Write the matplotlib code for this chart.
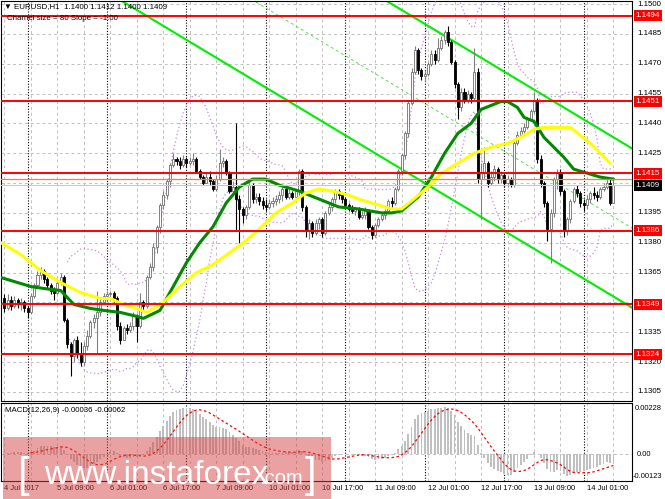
import numpy as np
import pandas as pd
import matplotlib
matplotlib.use("Agg")
import matplotlib.pyplot as plt
from matplotlib.patches import Rectangle
from matplotlib.transforms import blended_transform_factory

plt.rcParams['font.family'] = ['Liberation Sans', 'DejaVu Sans']

# ---------------- data (prices in pips above 1.1300) ----------------
BASE = 1.1300
PIP = 0.0001

first_open_pips = 52
close_pips = [
    47, 51, 48, 51, 49, 50, 47, 45, 53, 59,
    64, 66, 62, 59, 56, 55, 60, 63, 41, 29,
    23, 31, 24, 20, 28, 33, 40, 42, 45, 50,
    53, 54, 55, 52, 38, 31, 37, 36, 38, 43,
    38, 50, 48, 63, 68, 78, 88, 99, 104, 111,
    119, 122, 121, 119, 122, 120, 121, 122, 116, 113,
    110, 113, 111, 107, 112, 120, 121, 115, 106, 108,
    102, 97, 94, 98, 109, 102, 103, 101, 99, 98,
    100, 101, 102, 104, 107, 103, 105, 103, 106, 116,
    98, 86, 90, 85, 90, 92, 85, 95, 98, 102,
    106, 104, 102, 99, 97, 96, 97, 93, 94, 96,
    88, 84, 89, 92, 94, 96, 101, 100, 107, 116,
    124, 135, 150, 166, 177, 167, 164, 165, 170, 175,
    172, 178, 182, 186, 181, 171, 160, 148, 156, 152,
    155, 153, 166, 112, 115, 120, 110, 113, 117, 112,
    114, 110, 112, 109, 130, 134, 136, 138, 142, 146,
    152, 122, 110, 100, 87, 95, 112, 115, 106, 86,
    92, 101, 107, 105, 100, 99, 102, 105, 104, 103,
    107, 108, 110, 100, 109]
high_pips = [
    54, 54, 53, 53, 52, 52, 51, 48, 55, 60,
    66, 68, 67, 63, 60, 58, 62, 65, 64, 42,
    30, 32, 33, 30, 30, 36, 41, 44, 56, 52,
    55, 56, 56, 56, 53, 40, 38, 39, 40, 45,
    44, 55, 51, 64, 70, 80, 89, 100, 106, 112,
    120, 125, 123, 123, 124, 123, 123, 125, 123, 117,
    114, 115, 116, 112, 114, 127, 123, 122, 116, 111,
    140, 104, 98, 99, 111, 110, 105, 105, 103, 102,
    102, 103, 104, 106, 108, 108, 107, 106, 107, 117,
    117, 99, 92, 91, 92, 93, 93, 96, 100, 103,
    107, 107, 105, 103, 100, 99, 98, 98, 96, 98,
    97, 89, 90, 93, 95, 97, 102, 103, 108, 117,
    125, 136, 151, 168, 179, 178, 168, 167, 171, 177,
    177, 183, 184, 187, 189, 182, 172, 161, 158, 158,
    157, 156, 178, 168, 120, 128, 121, 116, 119, 118,
    116, 115, 114, 113, 131, 136, 138, 140, 143, 147,
    156, 153, 124, 111, 101, 97, 113, 117, 117, 107,
    93, 102, 108, 109, 106, 102, 104, 106, 108, 106,
    108, 110, 112, 112, 112]
low_pips = [
    45, 46, 46, 47, 47, 46, 45, 42, 44, 52,
    58, 62, 60, 57, 54, 51, 54, 59, 40, 27,
    13, 20, 22, 18, 18, 26, 32, 37, 24, 43,
    49, 52, 52, 50, 36, 29, 31, 34, 35, 36,
    30, 37, 46, 47, 62, 66, 75, 85, 97, 102,
    108, 118, 119, 117, 118, 118, 119, 119, 115, 112,
    109, 110, 109, 106, 106, 111, 118, 114, 105, 105,
    86, 80, 90, 92, 97, 100, 100, 99, 97, 96,
    97, 98, 99, 100, 101, 102, 102, 102, 102, 103,
    96, 83, 82, 83, 84, 87, 83, 84, 94, 96,
    100, 102, 100, 97, 96, 95, 94, 92, 92, 92,
    87, 82, 83, 88, 91, 92, 95, 98, 99, 106,
    114, 122, 133, 149, 165, 165, 162, 161, 164, 169,
    170, 171, 177, 180, 179, 170, 158, 142, 146, 150,
    150, 150, 151, 110, 92, 112, 108, 109, 111, 110,
    110, 108, 108, 108, 108, 129, 133, 135, 137, 141,
    145, 120, 108, 98, 81, 70, 93, 107, 104, 83,
    84, 90, 100, 103, 98, 96, 97, 100, 102, 101,
    102, 106, 107, 99, 100]

# moving averages (bar index, pips above 1.1300)
green_ma_bars = [-1, 8, 12, 17, 21, 26, 30, 35, 40, 42, 47, 51, 55, 59, 63, 67, 71, 75, 79, 83,
                 89, 95, 101, 107, 114, 117, 120, 125, 129, 133, 137, 141, 144, 147, 150, 152,
                 155, 157, 160, 163, 166, 169, 172, 176, 180, 184]
green_ma_pips = [62.5, 58, 57, 56, 49, 47, 46, 45, 43, 42, 46, 58, 70, 80, 88, 100, 108, 112, 112, 109,
                 106, 102, 98, 97, 95, 95, 96, 103, 113, 125, 135, 140, 147, 149, 151, 151,
                 148, 143, 141, 133, 128, 123, 117, 115, 113, 112]
yellow_ma_bars = [-1, 5, 11, 17, 23, 29, 32, 36, 40, 43, 48, 53, 58, 63, 68, 73, 79, 82, 87, 91,
                  95, 99, 104, 107, 111, 117, 120, 123, 128, 132, 137, 142, 147, 152, 156, 160,
                  163, 167, 171, 174, 177, 180, 183]
yellow_ma_pips = [80, 74, 66, 60, 55, 52, 52, 49, 47, 45, 50, 58, 65, 69, 75, 81, 90, 95, 100, 105,
                  107, 106, 104, 102, 100, 97, 97, 101, 108, 115, 120, 125, 128, 130, 133, 137,
                  138, 138, 138, 134, 130, 125, 120]

levels = [1.1494, 1.1451, 1.1415, 1.1386, 1.1349, 1.1324]
orange_level = 1.1412
bid_price = 1.1409

channel_size_pips = 80
channel_slope_pips = -1.00
channel_lower_at_last = 1.1353

price_ticks = [1.1305, 1.1320, 1.1335, 1.1350, 1.1365, 1.1380, 1.1395, 1.1410,
               1.1425, 1.1440, 1.1455, 1.1470, 1.1485, 1.1500]
hidden_ticks = [1.1350, 1.1410]

x_label_bars = [0, 16, 32, 48, 64, 80, 96, 112, 128, 144, 160, 176]
x_labels = ['4 Jul 2017', '5 Jul 09:00', '6 Jul 01:00', '6 Jul 17:00', '7 Jul 09:00',
            '10 Jul 01:00', '10 Jul 17:00', '11 Jul 09:00', '12 Jul 01:00', '12 Jul 17:00',
            '13 Jul 09:00', '14 Jul 01:00']
separator_bars = [7, 31, 55, 79, 103, 127, 151, 175]
grid_bars = list(range(0, 185, 8))

macd_top, macd_bottom = 0.00228, -0.00123

# ---------------- derived ----------------
close = BASE + np.array(close_pips) * PIP
high = BASE + np.array(high_pips) * PIP
low = BASE + np.array(low_pips) * PIP
opens = BASE + np.array([first_open_pips] + close_pips[:-1]) * PIP
n = len(close)
k = np.arange(n)

s = pd.Series(close)
bb_mid = s.rolling(20).mean()
bb_std = s.rolling(20).std(ddof=0)
bb_up = bb_mid + 2 * bb_std
bb_lo = bb_mid - 2 * bb_std

ema12 = s.ewm(span=12, adjust=False).mean()
ema26 = s.ewm(span=26, adjust=False).mean()
macd = ema12 - ema26
signal = macd.rolling(9).mean()

# ---------------- layout ----------------
W, H = 665, 499
def fx(px): return px / W
def fy(py): return 1 - py / H

PX0, PXB = 4.4, 3.31
kL = (1 - PX0) / PXB
kR = (632 - PX0) / PXB
PPU = 19897.0
ytop = 1.1500 + 3 / PPU
ybot = 1.1500 - 397 / PPU

fig = plt.figure(figsize=(6.65, 4.99), dpi=100)
fig.patch.set_facecolor('white')
ax = fig.add_axes([fx(1), fy(401), 631 / W, 400 / H])
axm = fig.add_axes([fx(1), fy(481), 631 / W, 78 / H])

for a in (ax, axm):
    a.set_xlim(kL, kR)
    a.set_xticks([])
    a.set_yticks([])
    for sp in a.spines.values():
        sp.set_color('black')
        sp.set_linewidth(0.8)
ax.set_ylim(ybot, ytop)
axm.set_ylim(macd_bottom, macd_top)

gridc = '#c0c0c0'
dash = (0, (3, 3))
for p in price_ticks:
    ax.axhline(p, color=gridc, lw=0.7, ls=dash, zorder=1)
for b in grid_bars:
    ax.axvline(b, color=gridc, lw=0.7, ls=dash, zorder=1)
    axm.axvline(b, color=gridc, lw=0.7, ls=dash, zorder=1)
for b in separator_bars:
    ax.axvline(b, color='black', lw=0.8, ls=(0, (1, 1.5)), zorder=1.2)
    axm.axvline(b, color='black', lw=0.8, ls=(0, (1, 1.5)), zorder=1.2)

# channel
kk = np.array([kL, kR])
lower = channel_lower_at_last + channel_slope_pips * PIP * (kk - (n - 1))
upper = lower + channel_size_pips * PIP
middle = lower + channel_size_pips / 2 * PIP
ax.plot(kk, upper, color='#00ee00', lw=1.5, zorder=2.5)
ax.plot(kk, lower, color='#00ee00', lw=1.5, zorder=2.5)
ax.plot(kk, middle, color='#55dd55', lw=0.7, ls=(0, (3, 3)), zorder=2.5)

# bollinger
ax.plot(k, bb_up, color='#c48af0', lw=0.9, ls=(0, (1, 2)), zorder=2.6)
ax.plot(k, bb_lo, color='#c48af0', lw=0.9, ls=(0, (1, 2)), zorder=2.6)

# candles
bull = close >= opens
wick_col = np.where(bull, '#808080', '#000000')
ax.vlines(k, low, high, colors=wick_col, lw=0.8, zorder=3)
body_bot = np.minimum(opens, close)
body_h = np.maximum(np.abs(close - opens), 0.3 * PIP)
ax.bar(k[bull], body_h[bull], bottom=body_bot[bull], width=0.62,
       color='white', edgecolor='#6e6e6e', lw=0.6, zorder=3.2)
ax.bar(k[~bull], body_h[~bull], bottom=body_bot[~bull], width=0.62,
       color='black', edgecolor='black', lw=0.6, zorder=3.2)

# moving averages
ax.plot(green_ma_bars, BASE + np.array(green_ma_pips) * PIP, color='#008a00', lw=2.2,
        zorder=4, solid_capstyle='round')
ax.plot(yellow_ma_bars, BASE + np.array(yellow_ma_pips) * PIP, color='#ffff00', lw=2.2,
        zorder=4, solid_capstyle='round')

# horizontal levels
ax.axhline(bid_price, color='#c8c8c8', lw=0.8, zorder=4.5)
ax.axhline(orange_level, color='#ff7f27', lw=0.9, zorder=4.6)
for lv in levels:
    ax.axhline(lv, color='#ff0000', lw=1.4, zorder=5)

FS = 5.7
trans = blended_transform_factory(fig.transFigure, ax.transData)
for p in price_ticks:
    if p in hidden_ticks:
        continue
    ax.text(fx(637), p, f'{p:.4f}', transform=trans, fontsize=FS, va='center', ha='left',
            clip_on=False, zorder=6)
ax.text(fx(635.5), orange_level, f'{orange_level:.4f}', transform=trans, color='white',
        fontsize=FS, va='center', ha='left', clip_on=False, zorder=7,
        bbox=dict(boxstyle='square,pad=0.25', fc='#ff7f27', ec='none'))
for lv in levels:
    ax.text(fx(635.5), lv, f'{lv:.4f}', transform=trans, color='white', fontsize=FS,
            va='center', ha='left', clip_on=False, zorder=8,
            bbox=dict(boxstyle='square,pad=0.25', fc='#ff0000', ec='none'))
ax.text(fx(635.5), bid_price, f'{bid_price:.4f}', transform=trans, color='white', fontsize=FS,
        va='center', ha='left', clip_on=False, zorder=9,
        bbox=dict(boxstyle='square,pad=0.25', fc='#000000', ec='none'))

# MACD pane
axm.bar(k, macd, width=0.55, color='#c0c0c0', zorder=3)
axm.plot(k, signal, color='#ff0000', lw=0.9, ls=(0, (2, 2)), zorder=4)
axm.axhline(0, color=gridc, lw=0.7, ls=dash, zorder=2)
fig.text(fx(635), fy(408), f'{macd_top:.5f}', fontsize=5.4, va='center', ha='left')
fig.text(fx(637), fy(455), '0.00', fontsize=5.4, va='center', ha='left')
fig.text(fx(633), fy(477), f'{macd_bottom:.5f}', fontsize=5.4, va='center', ha='left')

# x labels
for b, lab in zip(x_label_bars, x_labels):
    fig.text(fx(PX0 + PXB * b), fy(489), lab, fontsize=5.4, va='center', ha='left')

# header texts
fig.text(fx(4), fy(7), '\u25bc EURUSD,H1  1.1400 1.1412 1.1400 1.1409', fontsize=FS,
         va='center', ha='left', zorder=10)
fig.text(fx(7), fy(18.5), 'Charnel size = 80 Slope = -1.00', fontsize=FS, va='center',
         ha='left', zorder=10)
fig.text(fx(5), fy(410), 'MACD(12,26,9) -0.00036 -0.00062', fontsize=FS, va='center',
         ha='left', zorder=10)

# watermark
fig.patches.append(Rectangle((fx(3), fy(499)), 328 / W, 62 / H, transform=fig.transFigure,
                             facecolor='#d64545', edgecolor='none', alpha=0.5, zorder=20))
fig.text(fx(18), fy(487), '[', fontsize=30, color='white', va='baseline', ha='left', zorder=21)
fig.text(fx(44), fy(484), 'www.instaforex', fontsize=24, color='white', va='baseline',
         ha='left', zorder=21)
fig.text(fx(259), fy(484), '.com', fontsize=14.5, color='white', va='baseline', ha='left',
         zorder=21)
fig.text(fx(305), fy(487), ']', fontsize=30, color='white', va='baseline', ha='left', zorder=21)

fig.savefig('out.png', dpi=100)
